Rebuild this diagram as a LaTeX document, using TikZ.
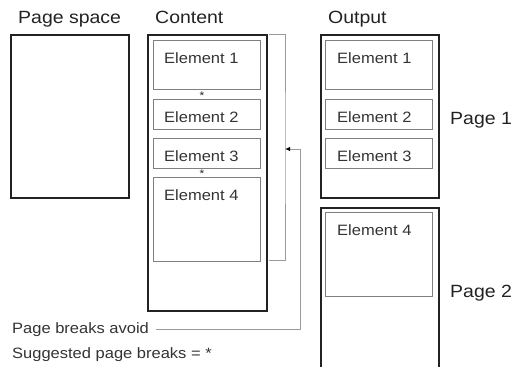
\documentclass[tikz,border=0pt]{standalone}
\usepackage{fontspec}
\setmainfont{Liberation Sans}[FakeStretch=1.1]
\usetikzlibrary{arrows.meta}
\definecolor{inkdark}{HTML}{222222}
\definecolor{inktext}{HTML}{333333}
\definecolor{inkbox}{HTML}{808080}
\definecolor{inkline}{HTML}{9A9A9A}
\tikzset{
  pagebox/.style={draw=inkdark, line width=1.6pt, inner sep=0pt, anchor=north west},
  elembox/.style={draw=inkbox, line width=1.1pt, inner sep=0pt, anchor=north west, minimum width=107pt},
  elemtext/.style={text=inktext, inner sep=0pt, anchor=base west, font=\fontsize{15}{18}\selectfont},
  title/.style={text=inkdark, inner sep=0pt, anchor=base west, font=\fontsize{17.7}{21}\selectfont},
  brace/.style={draw=inkline, line width=1pt},
  breakmark/.style={text=inkdark, inner sep=0pt, font=\fontsize{11}{12}\selectfont}
}
\begin{document}
\begin{tikzpicture}[x=1pt, y=-1pt]
    \useasboundingbox (0,0) rectangle (515,367);
    \clip (0,0) rectangle (515,367);

    % Titulos
    \node[title] (tspace) at (18,23) {Page space};
    \node[title] (tcontent) at (155,23) {Content};
    \node[title] (toutput) at (328,23) {Output};

    % Espacio de pagina
    \node[pagebox, minimum width=118pt, minimum height=163pt] (space) at (10,34) {};

    % Contenido
    \node[pagebox, minimum width=119pt, minimum height=276pt] (content) at (147,34) {};
    \node[elembox, minimum height=49pt] (c1) at (153,40) {};
    \node[elembox, minimum height=30pt] (c2) at (153,99) {};
    \node[elembox, minimum height=30pt] (c3) at (153,138) {};
    \node[elembox, minimum height=84pt] (c4) at (153,177) {};
    \node[elemtext] at ([xshift=11pt,yshift=-23.5pt]c1.north west) {Element 1};
    \node[elemtext] at ([xshift=11pt,yshift=-23.5pt]c2.north west) {Element 2};
    \node[elemtext] at ([xshift=11pt,yshift=-23.5pt]c3.north west) {Element 3};
    \node[elemtext] at ([xshift=11pt,yshift=-23.5pt]c4.north west) {Element 4};

    % Saltos sugeridos
    \node[breakmark] (s12) at (202,95.5) {*};
    \node[breakmark] (s34) at (202,173.5) {*};

    % Salida
    \node[pagebox, minimum width=118pt, minimum height=163pt] (p1) at (320,34) {};
    \node[pagebox, minimum width=118pt, minimum height=200pt] (p2) at (320,207) {};
    \node[elembox, minimum height=49pt] (o1) at (325,40) {};
    \node[elembox, minimum height=30pt] (o2) at (325,99) {};
    \node[elembox, minimum height=30pt] (o3) at (325,138) {};
    \node[elembox, minimum height=84pt] (o4) at (325,212) {};
    \node[elemtext] at ([xshift=12pt,yshift=-23.5pt]o1.north west) {Element 1};
    \node[elemtext] at ([xshift=12pt,yshift=-23.5pt]o2.north west) {Element 2};
    \node[elemtext] at ([xshift=12pt,yshift=-23.5pt]o3.north west) {Element 3};
    \node[elemtext] at ([xshift=12pt,yshift=-23.5pt]o4.north west) {Element 4};
    \node[title] (page1) at (450,124) {Page 1};
    \node[title] (page2) at (450,297) {Page 2};

    % Leyenda
    \node[elemtext] (avoid) at (12,333) {Page breaks avoid};
    \node[elemtext] (suggest) at (12,358) {Suggested page breaks = *};

    % Corchete y flecha
    \coordinate (brktop) at (269,34);
    \coordinate (brkbot) at (269,260);
    \coordinate (brk) at (285,149);
    \coordinate (bend) at (300,149);
    \draw[brace] (brktop) -| (brk) |- (brkbot);
    \draw[brace, -{Latex[length=5pt,width=4.5pt,fill=black,color=black]}]
      ([xshift=7pt]avoid.east) -| (bend) -- (brk);

  \end{tikzpicture}
\end{document}
